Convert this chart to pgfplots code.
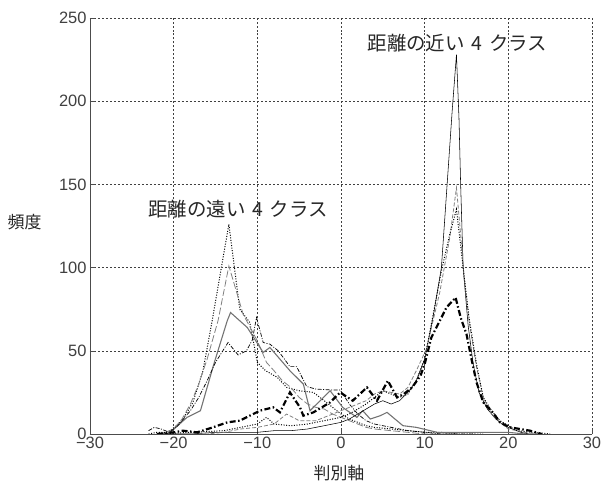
\documentclass[border=0pt]{standalone}
\usepackage{fontspec}
\setmainfont{Liberation Sans}
\newfontfamily\jp{Noto Sans CJK JP}
\usepackage{pgfplots}
\pgfplotsset{compat=1.18}
\begin{document}
\begin{tikzpicture}
\begin{axis}[
  scale only axis, width=502bp, height=416bp,
  xmin=-30, xmax=30, ymin=0, ymax=250,
  axis x line*=bottom, axis y line*=left,
  axis line style={black!70, line width=0.6pt},
  tick align=inside, major tick length=5bp,
  tick style={black!70, line width=0.5pt},
  xtick={-30,-20,-10,0,10,20,30},
  xticklabels={−30,−20,−10,0,10,20,30},
  ytick={0,50,100,150,200,250},
  yticklabels={0,50,100,150,200,250},
  ticklabel style={font=\fontsize{16.5}{16.5}\selectfont, text=black!75},
  grid=major,
  major grid style={black!75, line width=0.5pt, dash pattern=on 2pt off 2pt},
  xlabel={\jp 判別軸},
  ylabel={\jp 頻度},
  label style={font=\fontsize{17}{17}\selectfont, text=black!85},
  xlabel style={at={(axis description cs:0.496,0)}, anchor=north, yshift=-28bp},
  ylabel style={rotate=-90, at={(axis description cs:0,0.51)}, anchor=east, xshift=-45bp},
  clip=true,
]
% far classes
\addplot[black, line width=1pt, dash pattern=on 1pt off 1.6pt] coordinates {(-23,0)(-22,1)(-21,1)(-20.4,2)(-19,8)(-17.7,19)(-16.5,38)(-15.4,68)(-14.3,100)(-13.4,126)(-12.1,75)(-10.9,67)(-10,43)(-9,38)(-7.6,34)(-6.5,28)(-5,26)(-3.3,25)(-2,20)(-1,16)(0,12)(1,9)(2,7)(3,5)(4,4)(6,3)(8,2)(10,1)(12,1)(14,0)(17,0)};
\addplot[black!50, line width=0.8pt, dash pattern=on 7pt off 2.5pt] coordinates {(-22,0)(-21,1)(-20,3)(-19,9)(-18,18)(-17,30)(-16,45)(-14.7,68)(-13.4,101)(-11.7,72)(-10,56)(-8.9,43)(-8,38)(-7,32)(-6,28)(-5,22)(-4,18)(-3,16)(-2,15)(-1,12)(0,10)(1,8)(2,6)(3,4)(4,3)(6,2)(8,1)(10,0)(14,0)};
\addplot[black!55, line width=1.1pt] coordinates {(-22,0)(-21,0)(-20.4,1)(-18.4,10)(-16.8,14)(-15.2,42)(-13.6,68)(-13.2,73)(-11.2,64)(-9.3,49)(-8.5,52)(-7.3,45)(-6.1,38)(-4.5,30)(-3.7,14)(-2.5,20)(-1.3,26)(0.2,16)(1.9,10)(2.6,14)(3.5,9)(4.7,11)(5.5,13)(7.4,5)(9,4)(11.5,1)(15,1)(20,1)(22,0)};
\addplot[black, line width=0.7pt, dash pattern=on 4pt off 1.5pt on 1pt off 1.5pt] coordinates {(-23,2)(-22.3,4)(-21.5,3)(-20.5,1)(-19.5,5)(-18,14)(-17,22)(-16,32)(-15,43)(-13.5,55)(-12.3,47.5)(-11.3,50)(-10.6,56.5)(-10.1,70)(-9.3,55)(-8.5,54)(-7.5,50)(-6.1,40.5)(-5.3,40.5)(-4.1,28.5)(-3,27)(-1.3,26.5)(-0.1,26.5)(1,18)(2,12)(3,8)(4,6)(5,5)(6,4)(7,3)(8,2)(10,1)(12,0)(16,0)};
% near classes
\addplot[black, line width=0.55pt] coordinates {(-22,0)(-18,0)(-15,1)(-12,1)(-10,1)(-8,2)(-6,2)(-4,3)(-2,5)(0,7)(1,9)(2,12)(3,15)(4,18)(5,20)(6,18)(7,20)(8,25)(9,32)(10,45)(11,70)(12,100)(13.3,195)(13.8,228)(14.1,190)(14.3,150)(14.6,100)(15.2,65)(15.8,42)(16.5,25)(17.5,15)(18.5,9)(19.5,5)(20.5,3)(21.5,1)(22.5,0)(24,0)};
\addplot[black!50, line width=0.8pt, dash pattern=on 4pt off 2pt] coordinates {(-22,0)(-16,0)(-14,1)(-12,3)(-10,4)(-8,6)(-6.5,12)(-5,8)(-3,8)(-1,12)(0,14)(1,16)(2,18)(3,20)(4,24)(5,26)(6,25)(7,24)(8,28)(9,38)(10.2,51)(11,68)(11.8,85)(13,118)(13.8,148)(14.3,120)(14.7,95)(15.3,68)(16.2,40)(17,22)(18,12)(19,7)(20,3)(22,1)(24,0)};
\addplot[black, line width=1pt, dash pattern=on 1pt off 1.6pt] coordinates {(-22,0)(-18,1)(-14,2)(-12,4)(-10,6)(-8.9,10)(-8,6)(-6,5)(-4,6)(-2,8)(0,10)(1,12)(2,15)(3,18)(4,22)(5,26)(6,24)(7,22)(8,24)(9,32)(10,45)(11.4,82)(12,98)(13,120)(13.8,135)(14.6,100)(15.3,70)(16.2,42)(17,22)(18,14)(19,8)(20,5)(21,2)(23,1)(25,0)};
\addplot[black, line width=2.2pt, dash pattern=on 6pt off 2.5pt on 1.5pt off 2.5pt] coordinates {(-22,0)(-20,1)(-18.9,2)(-17.2,1)(-15.3,4)(-13.6,7)(-12.1,8)(-10.9,11)(-9.7,14)(-8.1,16)(-7.3,13)(-6.1,25)(-4.9,16)(-4.5,11)(-3.3,13)(-1.3,19)(-0.1,25)(1.4,20)(3.1,28)(4.3,20)(5.6,32)(6.7,22)(7.5,24)(8.5,28)(9.5,35)(10,42)(10.8,58)(12.6,76)(13.7,82)(14.3,70)(15,60)(15.6,45)(16.2,31)(17,19)(18.2,12.6)(19,7)(20.2,4)(22.6,2)(24,0)};
\node[font=\jp\fontsize{19.5}{19.5}\selectfont, text=black!85] at (axis cs:-12.3,135) {距離の遠い\hspace{0.35em}4\hspace{0.35em}クラス};
\node[font=\jp\fontsize{19.5}{19.5}\selectfont, text=black!85] at (axis cs:13.9,235) {距離の近い\hspace{0.35em}4\hspace{0.35em}クラス};
\end{axis}
\pgfresetboundingbox
\path[use as bounding box] (-90bp,-52bp) rectangle (512bp,434bp);
\end{tikzpicture}
\end{document}
